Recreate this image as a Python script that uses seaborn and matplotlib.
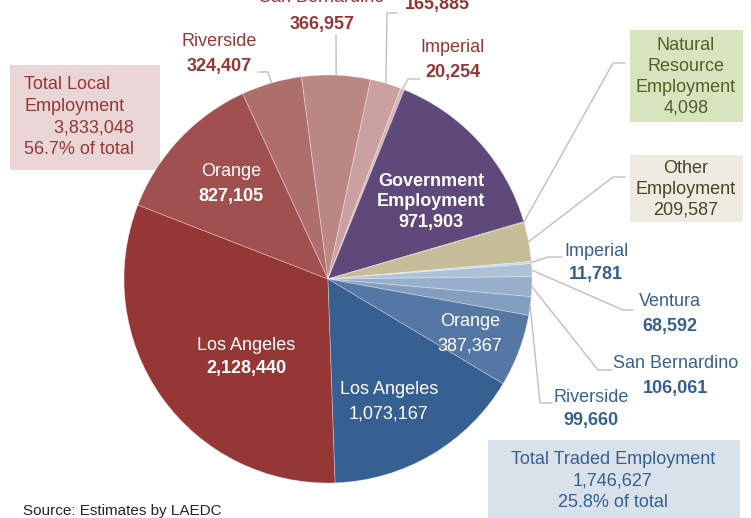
import numpy as np
import matplotlib
matplotlib.use("Agg")
import matplotlib.pyplot as plt
import seaborn as sns
from matplotlib.patches import Rectangle

sns.set_style("white")
plt.rcParams["font.family"] = ["Liberation Sans Narrow", "Liberation Sans", "DejaVu Sans"]

# slices, clockwise from the bottom of the pie
groups = ["Local", "Local", "Local", "Local", "Local", "Local",
          "Government", "Natural Resource", "Other",
          "Traded", "Traded", "Traded", "Traded", "Traded", "Traded"]
regions = ["Los Angeles", "Orange", "Riverside", "San Bernardino", "Ventura", "Imperial",
           "Government\nEmployment", "Natural\nResource\nEmployment", "Other\nEmployment",
           "Imperial", "Ventura", "San Bernardino", "Riverside", "Orange", "Los Angeles"]
jobs = [2128440, 827105, 324407, 366957, 165885, 20254,
        971903, 4098, 209587,
        11781, 68592, 106061, 99660, 387367, 1073167]
total_local = 3833048
total_traded = 1746627

colors = ["#953735", "#A0504E", "#AE6E6C", "#BB8785", "#CBA0A0", "#D7B4B4",
          "#5F497A", "#76923C", "#C4BD97",
          "#C9D6E5", "#AEC1D6", "#97AFCA", "#829FC0", "#5577A3", "#366092"]

RED = "#953735"
BLUE = "#366092"
FS = 13
W, H = 751, 518
CX, CY, R = 328, 279, 204


def P(x, y):
    # pixel position (from top-left) -> axes data coords
    return x, H - y


fig = plt.figure(figsize=(W / 100, H / 100), dpi=100)
ax = fig.add_axes([0, 0, 1, 1])

wedges, _ = ax.pie(jobs, colors=colors, startangle=272, counterclock=False,
                   center=P(CX, CY), radius=R,
                   wedgeprops=dict(edgecolor=(1, 1, 1, 0.35), linewidth=0.6))
ax.set_xlim(0, W)
ax.set_ylim(0, H)
ax.set_aspect("equal")
ax.set_axis_off()


def edge_point(i):
    w = wedges[i]
    mid = np.deg2rad((w.theta1 + w.theta2) / 2)
    return CX + R * np.cos(mid), CY - R * np.sin(mid)


def fmt(v):
    return f"{v:,}"


def two_line(x, y1, y2, name, val, color, name_w="normal", val_w="bold"):
    ax.text(*P(x, y1), name, color=color, fontsize=FS, ha="center", va="center", fontweight=name_w)
    ax.text(*P(x, y2), val, color=color, fontsize=FS, ha="center", va="center", fontweight=val_w)


def leader(i, pts):
    ex, ey = edge_point(i)
    xs = [p[0] for p in pts] + [ex]
    ys = [H - p[1] for p in pts] + [H - ey]
    ax.plot(xs, ys, color="#BFBFBF", lw=1.0, zorder=1)


# labels inside the pie
two_line(246, 345, 368, regions[0], fmt(jobs[0]), "white")
two_line(231, 172, 196, regions[1], fmt(jobs[1]), "white")
ax.text(*P(431, 202), regions[6] + "\n" + fmt(jobs[6]), color="white", fontsize=FS,
        ha="center", va="center", fontweight="bold", linespacing=1.3)
two_line(470, 322, 346, regions[13], fmt(jobs[13]), "white", val_w="normal")
two_line(389, 390, 414, regions[14], fmt(jobs[14]), "white", val_w="normal")

# local labels outside
two_line(219, 42, 66, regions[2], fmt(jobs[2]), RED)
leader(2, [(258, 72), (268, 72)])
two_line(322, -2, 25, regions[3], fmt(jobs[3]), RED)
leader(3, [(336, 35)])
two_line(437, -21, 5, regions[4], fmt(jobs[4]), RED)
leader(4, [(397, 13), (387, 13)])
two_line(453, 48, 72, regions[5], fmt(jobs[5]), RED)
leader(5, [(420, 79), (408, 79)])

# traded labels outside
two_line(596, 252, 275, regions[9], fmt(jobs[9]), BLUE)
leader(9, [(562, 257), (548, 257)])
two_line(670, 302, 326, regions[10], fmt(jobs[10]), BLUE)
leader(10, [(633, 310), (623, 310)])
two_line(676, 364, 388, regions[11], fmt(jobs[11]), BLUE)
leader(11, [(612, 370), (598, 370)])
two_line(591, 398, 421, regions[12], fmt(jobs[12]), BLUE)
leader(12, [(552, 403), (540, 403)])


# boxes
def box(x0, y0, x1, y1, fc):
    ax.add_patch(Rectangle((x0, H - y1), x1 - x0, y1 - y0, facecolor=fc,
                           edgecolor="none", zorder=0.5))


box(630, 30, 743, 122, "#D7E4BD")
ax.text(*P(686, 77), regions[7] + "\n" + fmt(jobs[7]), color="#4F6228", fontsize=FS,
        ha="center", va="center", linespacing=1.3)
leader(7, [(625, 63), (613, 63)])

box(630, 155, 743, 222, "#EEECE1")
ax.text(*P(686, 189), regions[8] + "\n" + fmt(jobs[8]), color="#494429", fontsize=FS,
        ha="center", va="center", linespacing=1.3)
leader(8, [(625, 177), (613, 177)])

grand = sum(jobs)
box(10, 65, 160, 170, "#EAD6D6")
ax.text(*P(24, 117), "Total Local\nEmployment\n      " + fmt(total_local) +
        f"\n{100 * total_local / grand:.1f}% of total",
        color=RED, fontsize=FS, ha="left", va="center", linespacing=1.35)

box(488, 440, 740, 530, "#D9E1EA")
ax.text(*P(613, 481), "Total Traded Employment\n" + fmt(total_traded) +
        f"\n{100 * total_traded / grand:.1f}% of total",
        color=BLUE, fontsize=FS, ha="center", va="center", linespacing=1.35)

ax.text(*P(23, 511), "Source: Estimates by LAEDC", color="#262626", fontsize=11,
        ha="left", va="center")

fig.savefig("out.png", dpi=100)
